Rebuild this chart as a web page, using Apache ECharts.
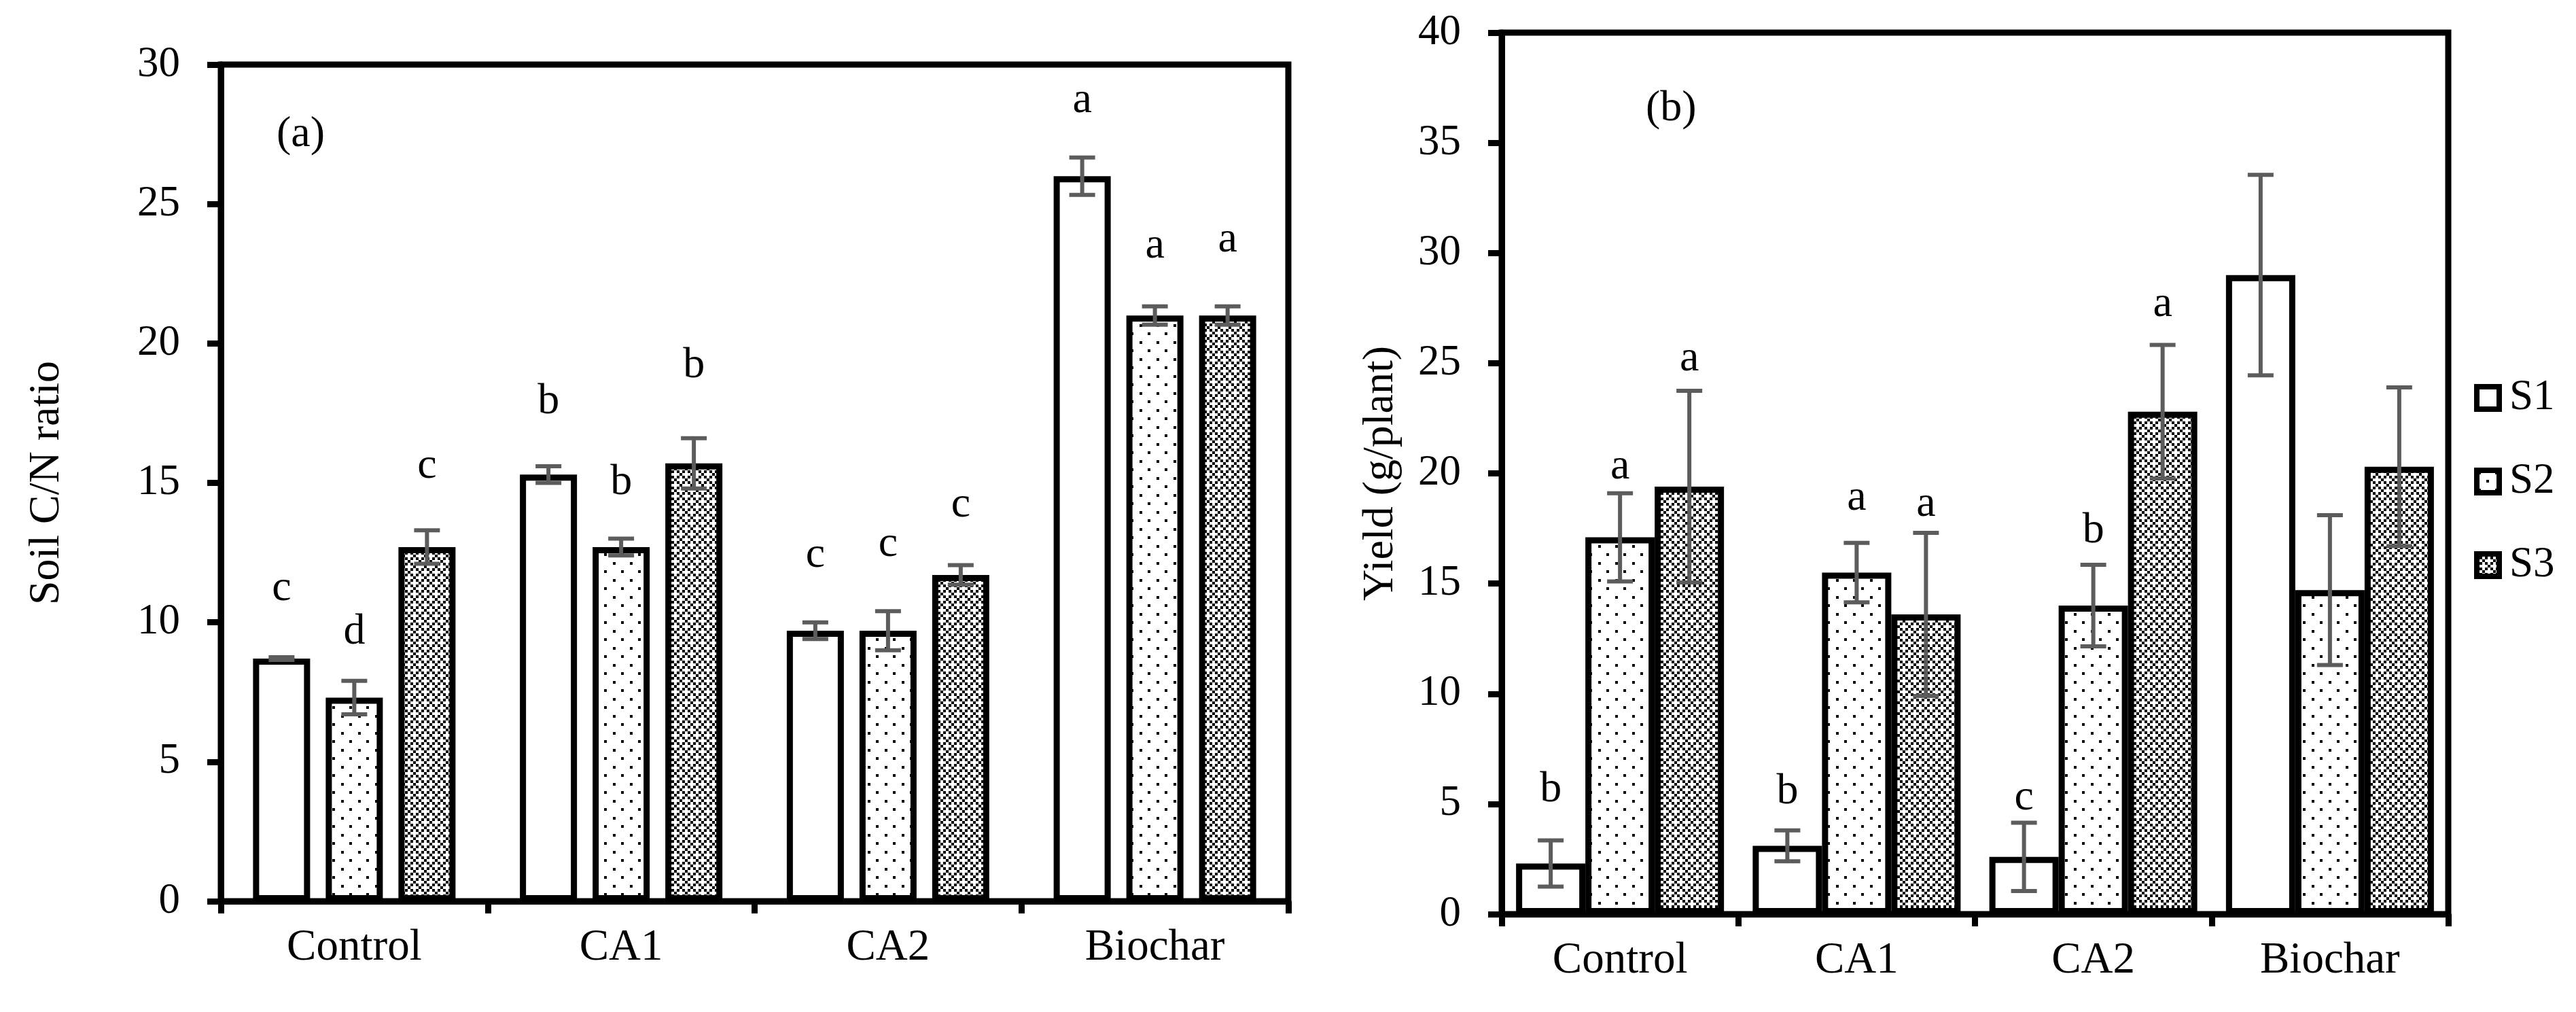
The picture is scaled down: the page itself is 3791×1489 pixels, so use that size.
<!DOCTYPE html>
<html>
<head>
<meta charset="utf-8">
<script src="https://cdn.jsdelivr.net/npm/echarts@6/dist/echarts.min.js"></script>
<style>html,body{margin:0;padding:0;background:#fff}#c{width:3791px;height:1489px}</style>
</head>
<body>
<div id="c"></div>
<script>
// ---------- data ----------
const categories = ['Control', 'CA1', 'CA2', 'Biochar'];
const seriesNames = ['S1', 'S2', 'S3'];

// (a) Soil C/N ratio
const cnS1 = [8.7, 15.3, 9.7, 26.0];
const cnS2 = [7.3, 12.7, 9.7, 21.0];
const cnS3 = [12.7, 15.7, 11.7, 21.0];
const cnErrS1 = [0.05, 0.3, 0.3, 0.67];
const cnErrS2 = [0.6, 0.3, 0.7, 0.33];
const cnErrS3 = [0.6, 0.9, 0.35, 0.33];
const cnLetterS1 = ['c', 'b', 'c', 'a'];
const cnLetterS2 = ['d', 'b', 'c', 'a'];
const cnLetterS3 = ['c', 'b', 'c', 'a'];
const cnLetterAtS1 = [11.2, 17.9, 12.4, 28.7];
const cnLetterAtS2 = [9.65, 15.0, 12.8, 23.5];
const cnLetterAtS3 = [15.6, 19.2, 14.2, 23.7];
const cnTicks = {min: 0, max: 30, interval: 5};

// (b) Yield (g/plant)
const ydS1 = [2.3, 3.1, 2.6, 29.0];
const ydS2 = [17.1, 15.5, 14.0, 14.7];
const ydS3 = [19.4, 13.6, 22.8, 20.3];
const ydErrS1 = [1.05, 0.7, 1.55, 4.55];
const ydErrS2 = [2.0, 1.35, 1.85, 3.4];
const ydErrS3 = [4.35, 3.7, 3.03, 3.6];
const ydLetterS1 = ['b', 'b', 'c', ''];
const ydLetterS2 = ['a', 'a', 'b', ''];
const ydLetterS3 = ['a', 'a', 'a', ''];
const ydLetterAtS1 = [5.65, 5.56, 5.27, null];
const ydLetterAtS2 = [20.3, 18.87, 17.4, null];
const ydLetterAtS3 = [25.2, 18.6, 27.65, null];
const ydTicks = {min: 0, max: 40, interval: 5};

// ---------- styles ----------
const FONT = "'Liberation Serif', 'Times New Roman', serif";
const ERR_COLOR = '#5c5c5c';

function dotPattern() {
  const c = document.createElement('canvas');
  c.width = 25; c.height = 25;
  const g = c.getContext('2d');
  g.fillStyle = '#fff'; g.fillRect(0, 0, 25, 25);
  g.fillStyle = '#000';
  g.fillRect(2, 2, 4, 4);
  g.fillRect(14, 14, 4, 4);
  return c;
}
function checkPattern() {
  const cell = 4, n = 4;
  const c = document.createElement('canvas');
  c.width = cell * n; c.height = cell * n;
  const g = c.getContext('2d');
  g.fillStyle = '#fff'; g.fillRect(0, 0, c.width, c.height);
  g.fillStyle = '#000';
  for (let i = 0; i < n; i++) for (let j = 0; j < n; j++) {
    if ((i + j) % n === 0 || ((i - j + n) % n) === 0) g.fillRect(j * cell, i * cell, cell, cell);
  }
  return c;
}
const fills = ['#ffffff', {image: dotPattern(), repeat: 'repeat'}, {image: checkPattern(), repeat: 'repeat'}];

const chart = echarts.init(document.getElementById('c'));

function barSeries(gi, vals, idx, barW, gap) {
  return {
    type: 'bar', name: seriesNames[idx], xAxisIndex: gi, yAxisIndex: gi,
    data: vals, barWidth: barW, barGap: gap, z: 2,
    itemStyle: {color: fills[idx], borderColor: '#000', borderWidth: 9},
    emphasis: {disabled: true}, animation: false
  };
}

function errSeries(gi, valsArr, errsArr, barW, gapPx) {
  const data = [];
  valsArr.forEach((vals, s) => vals.forEach((v, c) => data.push([c, s, v, errsArr[s][c]])));
  return {
    type: 'custom', xAxisIndex: gi, yAxisIndex: gi, z: 5, silent: true, animation: false,
    encode: {x: 0, y: 2},
    data: data,
    renderItem: function (params, api) {
      const c = api.value(0), s = api.value(1), v = api.value(2), e = api.value(3);
      const x = api.coord([c, v])[0] + (s - 1) * (barW + gapPx);
      const yt = api.coord([c, v + e])[1];
      const yb = api.coord([c, v - e])[1];
      const st = {stroke: ERR_COLOR, lineWidth: 6};
      const hw = 19;
      return {type: 'group', children: [
        {type: 'line', shape: {x1: x, y1: yt, x2: x, y2: yb}, style: st},
        {type: 'line', shape: {x1: x - hw, y1: yt, x2: x + hw, y2: yt}, style: st},
        {type: 'line', shape: {x1: x - hw, y1: yb, x2: x + hw, y2: yb}, style: st}
      ]};
    }
  };
}

function letterSeries(gi, atArr, letArr, barW, gapPx) {
  const data = [], letters = [];
  atArr.forEach((ys, s) => ys.forEach((y, c) => {
    if (y != null && letArr[s][c]) { data.push([c, s, y]); letters.push(letArr[s][c]); }
  }));
  return {
    type: 'custom', xAxisIndex: gi, yAxisIndex: gi, z: 6, silent: true, animation: false,
    encode: {x: 0, y: 2},
    data: data,
    renderItem: function (params, api) {
      const c = api.value(0), s = api.value(1), y = api.value(2);
      const p = api.coord([c, y]);
      return {type: 'text', x: p[0] + (s - 1) * (barW + gapPx), y: p[1],
        style: {text: letters[params.dataIndex], fill: '#000', font: '64px ' + FONT,
          align: 'center', verticalAlign: 'middle'}};
    }
  };
}

function xAxis(gi) {
  return {
    type: 'category', gridIndex: gi, data: categories,
    axisLine: {lineStyle: {color: '#000', width: 9}},
    axisTick: {show: true, length: 18, lineStyle: {color: '#000', width: 9}},
    axisLabel: {margin: 36, color: '#000', fontSize: 65, fontFamily: FONT},
    splitLine: {show: false}
  };
}
function yAxis(gi, t, name, gap) {
  return {
    type: 'value', gridIndex: gi, min: t.min, max: t.max, interval: t.interval,
    axisLine: {show: true, lineStyle: {color: '#000', width: 9}},
    axisTick: {show: true, length: 20, lineStyle: {color: '#000', width: 9}},
    axisLabel: {margin: 60, color: '#000', fontSize: 63, fontFamily: FONT},
    splitLine: {show: false},
    name: name, nameLocation: 'middle', nameGap: gap,
    nameTextStyle: {color: '#000', fontSize: 64, fontFamily: FONT}
  };
}

const LW = 84, LG = 23;   // panel (a) bar width & gap
const RW = 102, RG = 0;   // panel (b)

chart.setOption({
  animation: false,
  backgroundColor: '#fff',
  grid: [
    {left: 325, top: 95, width: 1571, height: 1231, show: true, borderColor: '#000', borderWidth: 9, backgroundColor: 'transparent'},
    {left: 2210, top: 48, width: 1393, height: 1297, show: true, borderColor: '#000', borderWidth: 9, backgroundColor: 'transparent'}
  ],
  xAxis: [xAxis(0), xAxis(1)],
  yAxis: [yAxis(0, cnTicks, 'Soil C/N ratio', 224), yAxis(1, ydTicks, 'Yield (g/plant)', 146)],
  legend: {
    orient: 'vertical', left: 3636, top: 549, icon: 'rect',
    itemWidth: 33, itemHeight: 33, itemGap: 60,
    itemStyle: {borderWidth: 8, borderColor: '#000'},
    textStyle: {color: '#000', fontSize: 63, fontFamily: FONT, lineHeight: 63, padding: [0, 0, 0, 10]},
    data: seriesNames, selectedMode: false
  },
  graphic: [
    {type: 'text', left: 407, top: 166, style: {text: '(a)', font: '64px ' + FONT, fill: '#000'}},
    {type: 'text', left: 2422, top: 128, style: {text: '(b)', font: '64px ' + FONT, fill: '#000'}}
  ],
  series: [
    barSeries(0, cnS1, 0, LW, (LG / LW * 100) + '%'),
    barSeries(0, cnS2, 1, LW, (LG / LW * 100) + '%'),
    barSeries(0, cnS3, 2, LW, (LG / LW * 100) + '%'),
    barSeries(1, ydS1, 0, RW, '0%'),
    barSeries(1, ydS2, 1, RW, '0%'),
    barSeries(1, ydS3, 2, RW, '0%'),
    errSeries(0, [cnS1, cnS2, cnS3], [cnErrS1, cnErrS2, cnErrS3], LW, LG),
    errSeries(1, [ydS1, ydS2, ydS3], [ydErrS1, ydErrS2, ydErrS3], RW, RG),
    letterSeries(0, [cnLetterAtS1, cnLetterAtS2, cnLetterAtS3], [cnLetterS1, cnLetterS2, cnLetterS3], LW, LG),
    letterSeries(1, [ydLetterAtS1, ydLetterAtS2, ydLetterAtS3], [ydLetterS1, ydLetterS2, ydLetterS3], RW, RG)
  ]
});
</script>
</body>
</html>
